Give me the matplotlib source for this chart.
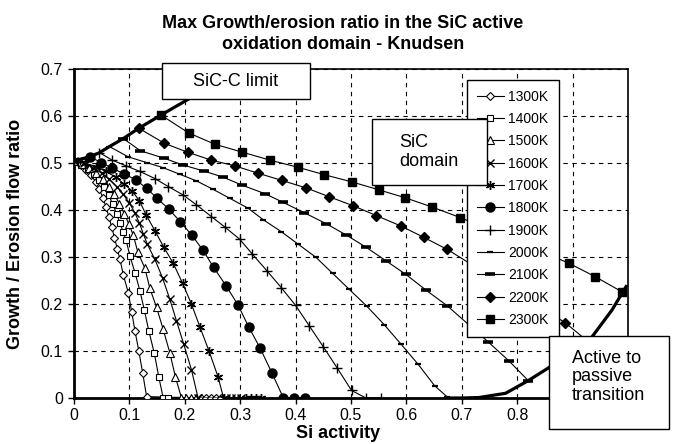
import matplotlib
matplotlib.use("Agg")
import matplotlib.pyplot as plt
from matplotlib.patches import Rectangle

plt.rcParams['font.family'] = ['Liberation Sans', 'DejaVu Sans']

# Si activity / growth-erosion ratio
x_1300 = [0.000, 0.012, 0.022, 0.031, 0.039, 0.046, 0.052, 0.058, 0.063, 0.068, 0.073, 0.078, 0.083,
          0.089, 0.098, 0.104, 0.110, 0.117, 0.124, 0.131, 0.230, 0.239, 0.248, 0.257, 0.266]
y_1300 = [0.505, 0.496, 0.486, 0.474, 0.460, 0.444, 0.426, 0.406, 0.385, 0.364, 0.341, 0.318, 0.295,
          0.262, 0.224, 0.184, 0.143, 0.100, 0.053, 0.003, 0.0, 0.0, 0.0, 0.0, 0.0]

x_1400 = [0.000, 0.013, 0.025, 0.036, 0.046, 0.055, 0.063, 0.070, 0.077, 0.083, 0.089, 0.094, 0.101,
          0.110, 0.119, 0.127, 0.135, 0.145, 0.153, 0.161, 0.170]
y_1400 = [0.505, 0.497, 0.487, 0.476, 0.463, 0.448, 0.431, 0.412, 0.392, 0.372, 0.353, 0.336, 0.302,
          0.267, 0.228, 0.187, 0.143, 0.095, 0.045, 0.0, 0.0]

x_1500 = [0.000, 0.014, 0.027, 0.040, 0.052, 0.063, 0.073, 0.082, 0.091, 0.099, 0.107, 0.115, 0.128,
          0.137, 0.149, 0.161, 0.173, 0.183, 0.194, 0.203, 0.212, 0.221]
y_1500 = [0.505, 0.498, 0.489, 0.478, 0.465, 0.450, 0.433, 0.413, 0.392, 0.370, 0.347, 0.311, 0.276,
          0.233, 0.193, 0.146, 0.096, 0.045, 0.0, 0.0, 0.0, 0.0]

x_1600 = [0.000, 0.018, 0.035, 0.050, 0.064, 0.077, 0.089, 0.100, 0.110, 0.118, 0.125, 0.132, 0.146,
          0.160, 0.173, 0.185, 0.198, 0.212, 0.224, 0.275, 0.284, 0.293, 0.302]
y_1600 = [0.505, 0.499, 0.490, 0.478, 0.465, 0.450, 0.433, 0.415, 0.394, 0.372, 0.350, 0.328, 0.295,
          0.255, 0.210, 0.164, 0.115, 0.060, 0.0, 0.0, 0.0, 0.0, 0.0]

x_1700 = [0.000, 0.020, 0.040, 0.058, 0.075, 0.091, 0.105, 0.118, 0.130, 0.146, 0.162, 0.179, 0.196,
          0.212, 0.227, 0.244, 0.260, 0.270, 0.311, 0.320, 0.329, 0.338]
y_1700 = [0.505, 0.500, 0.492, 0.482, 0.470, 0.455, 0.440, 0.420, 0.390, 0.356, 0.321, 0.287, 0.244,
          0.200, 0.152, 0.099, 0.045, 0.0, 0.0, 0.0, 0.0, 0.0]

x_1800 = [0.029, 0.049, 0.069, 0.090, 0.112, 0.131, 0.150, 0.171, 0.192, 0.213, 0.233, 0.252, 0.275,
          0.296, 0.315, 0.336, 0.357, 0.378, 0.398, 0.417]
y_1800 = [0.513, 0.501, 0.489, 0.477, 0.464, 0.446, 0.425, 0.402, 0.375, 0.346, 0.314, 0.278, 0.238,
          0.198, 0.152, 0.106, 0.054, 0.0, 0.0, 0.0]

x_1900 = [0.046, 0.069, 0.094, 0.119, 0.146, 0.170, 0.197, 0.221, 0.248, 0.272, 0.299, 0.322, 0.348,
          0.374, 0.400, 0.425, 0.450, 0.475, 0.501, 0.527, 0.554]
y_1900 = [0.522, 0.506, 0.494, 0.482, 0.467, 0.450, 0.432, 0.411, 0.386, 0.364, 0.338, 0.306, 0.271,
          0.235, 0.197, 0.153, 0.109, 0.064, 0.016, 0.0, 0.0]

x_2000 = [0.064, 0.098, 0.131, 0.161, 0.191, 0.221, 0.251, 0.281, 0.314, 0.342, 0.374, 0.405, 0.437,
          0.467, 0.497, 0.528, 0.560, 0.590, 0.621, 0.651, 0.674]
y_2000 = [0.535, 0.513, 0.501, 0.490, 0.476, 0.462, 0.444, 0.425, 0.404, 0.379, 0.354, 0.327, 0.299,
          0.265, 0.231, 0.196, 0.156, 0.115, 0.072, 0.026, 0.002]

x_2100 = [0.089, 0.120, 0.163, 0.196, 0.234, 0.269, 0.303, 0.344, 0.378, 0.416, 0.455, 0.491, 0.527,
          0.563, 0.599, 0.636, 0.674, 0.747, 0.785, 0.820]
y_2100 = [0.552, 0.526, 0.510, 0.496, 0.483, 0.470, 0.453, 0.435, 0.416, 0.394, 0.371, 0.347, 0.321,
          0.292, 0.263, 0.229, 0.196, 0.120, 0.079, 0.037]

x_2200 = [0.117, 0.163, 0.205, 0.248, 0.290, 0.333, 0.375, 0.419, 0.461, 0.504, 0.546, 0.590, 0.631,
          0.674, 0.887, 0.930]
y_2200 = [0.574, 0.542, 0.523, 0.506, 0.494, 0.478, 0.463, 0.447, 0.428, 0.409, 0.388, 0.366, 0.342,
          0.316, 0.160, 0.118]

x_2300 = [0.157, 0.207, 0.254, 0.304, 0.354, 0.404, 0.452, 0.501, 0.550, 0.598, 0.647, 0.697, 0.893,
          0.941, 0.989]
y_2300 = [0.602, 0.564, 0.540, 0.523, 0.506, 0.491, 0.475, 0.460, 0.443, 0.426, 0.406, 0.384, 0.287,
          0.258, 0.226]

# boundary curves
limit_x = [0.0, 0.029, 0.046, 0.064, 0.089, 0.117, 0.157, 0.220]
limit_y = [0.505, 0.513, 0.522, 0.535, 0.552, 0.574, 0.602, 0.645]
trans_x = [0.674, 0.700, 0.731, 0.779, 0.820, 0.855, 0.935, 0.971, 0.998]
trans_y = [0.0, 0.0, 0.001, 0.010, 0.037, 0.063, 0.130, 0.187, 0.240]

x_ticks = [0, 0.1, 0.2, 0.3, 0.4, 0.5, 0.6, 0.7, 0.8, 0.9, 1.0]
x_tick_labels = ['0', '0.1', '0.2', '0.3', '0.4', '0.5', '0.6', '0.7', '0.8', '0.9', '1']
y_ticks = [0, 0.1, 0.2, 0.3, 0.4, 0.5, 0.6, 0.7]
y_tick_labels = ['0', '0.1', '0.2', '0.3', '0.4', '0.5', '0.6', '0.7']

series = [
    ('1300K', x_1300, y_1300, dict(marker='D', ms=4.5, mfc='white', mew=0.8)),
    ('1400K', x_1400, y_1400, dict(marker='s', ms=5, mfc='white', mew=0.8)),
    ('1500K', x_1500, y_1500, dict(marker='^', ms=5.5, mfc='white', mew=0.8)),
    ('1600K', x_1600, y_1600, dict(marker='x', ms=6, mew=1.0)),
    ('1700K', x_1700, y_1700, dict(marker=(6, 2, 0), ms=6.5, mew=1.0)),
    ('1800K', x_1800, y_1800, dict(marker='o', ms=6.5, mfc='black')),
    ('1900K', x_1900, y_1900, dict(marker='+', ms=7, mew=1.0)),
    ('2000K', x_2000, y_2000, dict(marker='_', ms=4, mew=1.6)),
    ('2100K', x_2100, y_2100, dict(marker='_', ms=7, mew=2.6)),
    ('2200K', x_2200, y_2200, dict(marker='D', ms=5, mfc='black')),
    ('2300K', x_2300, y_2300, dict(marker='s', ms=5.5, mfc='black')),
]

fig = plt.figure(figsize=(6.75, 4.44), dpi=100)
ax = fig.add_axes([74 / 675, 1 - 398 / 444, 554 / 675, 329 / 444])

for name, xs, ys, style in series:
    ax.plot(xs, ys, color='black', lw=0.8, mec='black', label=name, zorder=3, **style)

ax.plot(limit_x, limit_y, color='black', lw=2.3, zorder=4, solid_capstyle='butt')
ax.plot(trans_x, trans_y, color='black', lw=2.3, zorder=4, solid_capstyle='butt')

ax.set_xlim(0, 1)
ax.set_ylim(0, 0.7)
ax.set_xticks(x_ticks)
ax.set_xticklabels(x_tick_labels)
ax.set_yticks(y_ticks)
ax.set_yticklabels(y_tick_labels)
ax.tick_params(direction='out', length=4, width=1, labelsize=11.5, pad=4)
ax.tick_params(axis='x', pad=3)

ax.grid(True, color='black', lw=0.8, linestyle=(0, (4, 4)))
ax.set_axisbelow(True)
for side in ['left', 'bottom']:
    ax.spines[side].set_linewidth(2.0)
for side in ['top', 'right']:
    ax.spines[side].set_linewidth(1.2)

ax.set_xlabel('Si activity', fontsize=13, fontweight='bold')
ax.xaxis.set_label_coords(0.477, -0.083)
ax.set_ylabel('Growth / Erosion flow ratio', fontsize=13, fontweight='bold')
ax.yaxis.set_label_coords(-0.09, 0.5)

fig.text(0.508, 0.967, 'Max Growth/erosion ratio in the SiC active\noxidation domain - Knudsen',
         ha='center', va='top', fontsize=13, fontweight='bold', linespacing=1.35)

leg = ax.legend(loc='upper left', bbox_to_anchor=(0.709, 0.967), borderaxespad=0, fontsize=10,
                frameon=True, fancybox=False, framealpha=1, edgecolor='black',
                handlelength=2.0, handletextpad=0.3, labelspacing=0.6, borderpad=0.7)
leg.get_frame().set_linewidth(1.0)
leg.set_zorder(6)

# annotation boxes
boxes = [
    ((0.159, 0.909), 0.267, 0.109),
    ((0.538, 0.647), 0.207, 0.201),
    ((0.857, -0.094), 0.217, 0.282),
]
for (bx, by), bw, bh in boxes:
    ax.add_patch(Rectangle((bx, by), bw, bh, transform=ax.transAxes, clip_on=False,
                           facecolor='white', edgecolor='black', lw=1.0, zorder=10))

ax.text(0.2925, 0.9635, 'SiC-C limit', transform=ax.transAxes, ha='center', va='center',
        fontsize=13, zorder=11)
ax.text(0.587, 0.748, 'SiC\ndomain', transform=ax.transAxes, ha='left', va='center',
        fontsize=13, zorder=11, linespacing=1.2)
ax.text(0.899, 0.064, 'Active to\npassive\ntransition', transform=ax.transAxes, ha='left',
        va='center', fontsize=13, zorder=11, linespacing=1.1)

fig.savefig('out.png', dpi=100)
